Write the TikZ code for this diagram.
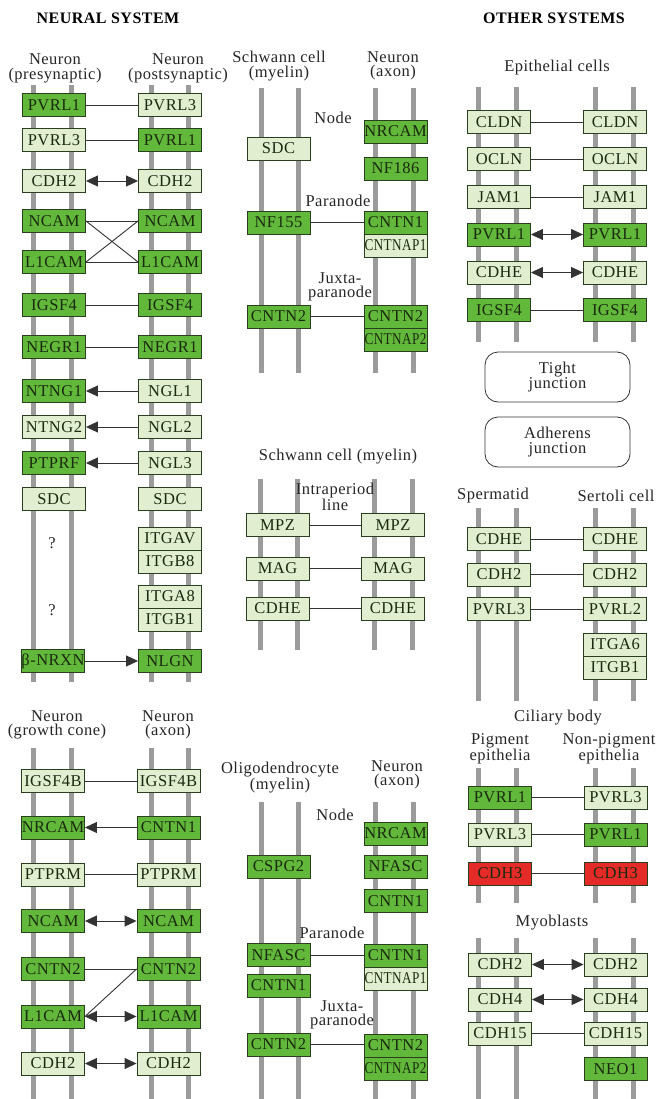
\documentclass[tikz,border=0pt]{standalone}
\usepackage{fontspec}
\usepackage{graphicx}
\setmainfont{Liberation Serif}[LetterSpace=3]
\usetikzlibrary{arrows.meta}
\definecolor{dkgreen}{HTML}{62B83A}
\definecolor{ltgreen}{HTML}{E1EFD0}
\definecolor{redbox}{HTML}{E42B27}
\definecolor{boxline}{HTML}{2A3F1E}
\definecolor{boxtext}{HTML}{1A2A10}
\definecolor{barg}{HTML}{9B9B9B}
\definecolor{linkc}{HTML}{333333}
\newcommand{\kgbox}{\fontsize{16.5}{16.5}\selectfont}
\newcommand{\kglbl}{\fontsize{16.5}{14.5}\selectfont}
\newcommand{\kgsq}[1]{\scalebox{0.8}[1]{#1}}
\tikzset{
  box/.style={draw=boxline, line width=0.9pt, minimum width=63pt, minimum height=23pt,
    inner sep=0pt, font=\kgbox, text=boxtext},
  dk/.style={box, fill=dkgreen},
  lt/.style={box, fill=ltgreen},
  rd/.style={box, fill=redbox},
  bar/.style={draw=barg, line width=5pt},
  lnk/.style={draw=linkc, line width=0.9pt},
  arr/.style={lnk, -{Triangle[length=12pt,width=11pt]}},
  darr/.style={lnk, {Triangle[length=12pt,width=11pt]}-{Triangle[length=12pt,width=11pt]}},
  lbl/.style={font=\kglbl, align=center, inner sep=0pt, text=black!85},
  hd/.style={font=\fontsize{16}{16}\selectfont\bfseries, inner sep=0pt},
  junc/.style={draw=black!80, line width=0.8pt, rounded corners=13pt, minimum width=145pt,
    minimum height=50pt, fill=white, font=\kglbl, align=center, inner sep=0pt, text=black!85}
}
\begin{document}
\begin{tikzpicture}[x=1pt,y=-1pt]
\useasboundingbox[fill=white] (0,0) rectangle (657,1099);

% ---------------- bars ----------------
\foreach \x in {33,71,151,188} \draw[bar] (\x,85) -- (\x,682);
\foreach \x in {261,298,375,413} \draw[bar] (\x,88) -- (\x,373);
\foreach \x in {260,297,374,412} \draw[bar] (\x,479) -- (\x,650);
\foreach \x in {478,516,595,633} \draw[bar] (\x,87) -- (\x,342);
\foreach \x in {478,516,595,633} \draw[bar] (\x,508) -- (\x,701);
\foreach \x in {33,71,151,188} \draw[bar] (\x,748) -- (\x,1099);
\foreach \x in {261,298,375,413} \draw[bar] (\x,802) -- (\x,1099);
\foreach \x in {478,516,595,633} \draw[bar] (\x,768) -- (\x,903);
\foreach \x in {478,516,595,633} \draw[bar] (\x,938) -- (\x,1099);

% ---------------- titles ----------------
\node[hd] (t1) at (108,18) {NEURAL SYSTEM};
\node[hd] (t2) at (554,18) {OTHER SYSTEMS};

% ---------------- panel A ----------------
\node[lbl] (ah1) at (55,68.5) {Neuron\\(presynaptic)};
\node[lbl] (ah2) at (178,68.5) {Neuron\\(postsynaptic)};
\node[dk] (a1l) at (54,105) {PVRL1};  \node[lt] (a1r) at (170,105) {PVRL3};
\node[lt] (a2l) at (54,140) {PVRL3};  \node[dk] (a2r) at (170,140) {PVRL1};
\node[lt] (a3l) at (54,181) {CDH2};   \node[lt] (a3r) at (170,181) {CDH2};
\node[dk] (a4l) at (54,221) {NCAM};   \node[dk] (a4r) at (170,221) {NCAM};
\node[dk] (a5l) at (54,262) {L1CAM};  \node[dk] (a5r) at (170,262) {L1CAM};
\node[dk] (a6l) at (54,305) {IGSF4};  \node[dk] (a6r) at (170,305) {IGSF4};
\node[dk] (a7l) at (54,347) {NEGR1};  \node[dk] (a7r) at (170,347) {NEGR1};
\node[dk] (a8l) at (54,391) {NTNG1};  \node[lt] (a8r) at (170,391) {NGL1};
\node[lt] (a9l) at (54,427) {NTNG2};  \node[lt] (a9r) at (170,427) {NGL2};
\node[dk] (a10l) at (54,463) {PTPRF}; \node[lt] (a10r) at (170,463) {NGL3};
\node[lt] (a11l) at (54,499) {SDC};   \node[lt] (a11r) at (170,499) {SDC};
\node[lbl] (aq1) at (52,543) {?};
\node[lt] (a12r) at (170,538.5) {ITGAV};
\node[lt] (a13r) at (170,561.5) {ITGB8};
\node[lbl] (aq2) at (52,610) {?};
\node[lt] (a14r) at (170,596.5) {ITGA8};
\node[lt] (a15r) at (170,619.5) {ITGB1};
\node[dk] (a16l) at (53,661) {β-NRXN}; \node[dk] (a16r) at (170,661) {NLGN};
\draw[lnk] (a1l) -- (a1r);
\draw[lnk] (a2l) -- (a2r);
\draw[darr] (a3l) -- (a3r);
\draw[lnk] (a4l) -- (a4r);
\draw[lnk] (a5l) -- (a5r);
\draw[lnk] (a4l.east) -- (a5r.west);
\draw[lnk] (a5l.east) -- (a4r.west);
\draw[lnk] (a6l) -- (a6r);
\draw[lnk] (a7l) -- (a7r);
\draw[arr] (a8r) -- (a8l);
\draw[arr] (a9r) -- (a9l);
\draw[arr] (a10r) -- (a10l);
\draw[arr] (a16l) -- (a16r);

% ---------------- panel B ----------------
\node[lbl] (bh1) at (279,66) {Schwann cell\\(myelin)};
\node[lbl] (bh2) at (393,66) {Neuron\\(axon)};
\node[lbl] (bn1) at (333,118) {Node};
\node[dk] (b1r) at (395.5,131.5) {NRCAM};
\node[lt] (b1l) at (278.5,148.5) {SDC};
\node[dk] (b2r) at (395.5,168.5) {NF186};
\node[lbl] (bn2) at (338,201) {Paranode};
\node[dk] (b3l) at (278.5,222.5) {NF155};
\node[dk] (b3r) at (395.5,222.5) {CNTN1};
\node[lt] (b4r) at (395.5,245.5) {\kgsq{CNTNAP1}};
\node[lbl] (bn3) at (340,287) {Juxta-\\paranode};
\node[dk] (b5l) at (278.5,316.5) {CNTN2};
\node[dk] (b5r) at (395.5,316.5) {CNTN2};
\node[dk] (b6r) at (395.5,339.5) {\kgsq{CNTNAP2}};
\draw[lnk] (b3l) -- (b3r);
\draw[lnk] (b5l) -- (b5r);

% ---------------- panel C ----------------
\node[lbl] (ch1) at (338,457) {Schwann cell (myelin)};
\node[lbl] (cn1) at (335,497) {Intraperiod\\line};
\node[lt] (c1l) at (277.5,525) {MPZ};  \node[lt] (c1r) at (393,525) {MPZ};
\node[lt] (c2l) at (277.5,568.5) {MAG}; \node[lt] (c2r) at (393,568.5) {MAG};
\node[lt] (c3l) at (277.5,608.5) {CDHE}; \node[lt] (c3r) at (393,608.5) {CDHE};
\draw[lnk] (c1l) -- (c1r);
\draw[lnk] (c2l) -- (c2r);
\draw[lnk] (c3l) -- (c3r);

% ---------------- panel D ----------------
\node[lbl] (dh1) at (557,68) {Epithelial cells};
\node[lt] (d1l) at (499,122) {CLDN};  \node[lt] (d1r) at (615,122) {CLDN};
\node[lt] (d2l) at (499,159) {OCLN};  \node[lt] (d2r) at (615,159) {OCLN};
\node[lt] (d3l) at (499,197) {JAM1};  \node[lt] (d3r) at (615,197) {JAM1};
\node[dk] (d4l) at (499,234.5) {PVRL1}; \node[dk] (d4r) at (615,234.5) {PVRL1};
\node[lt] (d5l) at (499,272.5) {CDHE}; \node[lt] (d5r) at (615,272.5) {CDHE};
\node[dk] (d6l) at (499,310) {IGSF4}; \node[dk] (d6r) at (615,310) {IGSF4};
\draw[lnk] (d1l) -- (d1r);
\draw[lnk] (d2l) -- (d2r);
\draw[lnk] (d3l) -- (d3r);
\draw[darr] (d4l) -- (d4r);
\draw[darr] (d5l) -- (d5r);
\draw[lnk] (d6l) -- (d6r);
\node[junc] (dj1) at (557.5,377) {Tight\\junction};
\node[junc] (dj2) at (557.5,442) {Adherens\\junction};
\node[lbl] (dh2) at (493,496) {Spermatid};
\node[lbl] (dh3) at (616,496) {Sertoli cell};
\node[lt] (d7l) at (499,539) {CDHE};   \node[lt] (d7r) at (615,539) {CDHE};
\node[lt] (d8l) at (499,574.5) {CDH2};  \node[lt] (d8r) at (615,574.5) {CDH2};
\node[lt] (d9l) at (499,609) {PVRL3};  \node[lt] (d9r) at (615,609) {PVRL2};
\node[lt] (d10r) at (615,644.5) {ITGA6};
\node[lt] (d11r) at (615,667.5) {ITGB1};
\draw[lnk] (d7l) -- (d7r);
\draw[lnk] (d8l) -- (d8r);
\draw[lnk] (d9l) -- (d9r);

% ---------------- panel E ----------------
\node[lbl] (eh1) at (57,725) {Neuron\\(growth cone)};
\node[lbl] (eh2) at (168,725) {Neuron\\(axon)};
\node[lt] (e1l) at (53,781) {IGSF4B};  \node[lt] (e1r) at (168.5,781) {IGSF4B};
\node[dk] (e2l) at (53,827.5) {NRCAM}; \node[dk] (e2r) at (168.5,827.5) {CNTN1};
\node[lt] (e3l) at (53,874.5) {PTPRM}; \node[lt] (e3r) at (168.5,874.5) {PTPRM};
\node[dk] (e4l) at (53,921) {NCAM};    \node[dk] (e4r) at (168.5,921) {NCAM};
\node[dk] (e5l) at (53,969) {CNTN2};   \node[dk] (e5r) at (168.5,969) {CNTN2};
\node[dk] (e6l) at (53,1016.5) {L1CAM}; \node[dk] (e6r) at (168.5,1016.5) {L1CAM};
\node[lt] (e7l) at (53,1063.5) {CDH2};  \node[lt] (e7r) at (168.5,1063.5) {CDH2};
\draw[lnk] (e1l) -- (e1r);
\draw[arr] (e2r) -- (e2l);
\draw[lnk] (e3l) -- (e3r);
\draw[darr] (e4l) -- (e4r);
\draw[lnk] (e5l) -- (e5r);
\draw[lnk] (e5r.west) -- (e6l.east);
\draw[darr] (e6l) -- (e6r);
\draw[darr] (e7l) -- (e7r);

% ---------------- panel F ----------------
\node[lbl] (fh1) at (280,778) {Oligodendrocyte\\(myelin)};
\node[lbl] (fh2) at (397,775) {Neuron\\(axon)};
\node[lbl] (fn1) at (335,815) {Node};
\node[dk] (f1r) at (395.5,833.5) {NRCAM};
\node[dk] (f2l) at (278.5,866.5) {CSPG2};
\node[dk] (f2r) at (395.5,866.5) {NFASC};
\node[dk] (f3r) at (395.5,901) {CNTN1};
\node[lbl] (fn2) at (332,933) {Paranode};
\node[dk] (f4l) at (278.5,955) {NFASC};
\node[dk] (f4r) at (395.5,955.5) {CNTN1};
\node[lt] (f5r) at (395.5,978.5) {\kgsq{CNTNAP1}};
\node[dk] (f5l) at (278.5,985.5) {CNTN1};
\node[lbl] (fn3) at (342,1015) {Juxta-\\paranode};
\node[dk] (f6l) at (278.5,1044.5) {CNTN2};
\node[dk] (f6r) at (395.5,1045.5) {CNTN2};
\node[dk] (f7r) at (395.5,1068.5) {\kgsq{CNTNAP2}};
\draw[lnk] (f4l) -- (f4l -| f4r.west);
\draw[lnk] (f6l) -- (f6l -| f6r.west);

% ---------------- panel G ----------------
\node[lbl] (gh1) at (558,718) {Ciliary body};
\node[lbl] (gh2) at (500,749) {Pigment\\epithelia};
\node[lbl] (gh3) at (609,749) {Non-pigment\\epithelia};
\node[dk] (g1l) at (500,797.5) {PVRL1}; \node[lt] (g1r) at (615.5,797.5) {PVRL3};
\node[lt] (g2l) at (500,834.5) {PVRL3}; \node[dk] (g2r) at (615.5,834.5) {PVRL1};
\node[rd] (g3l) at (500,873.5) {CDH3};  \node[rd] (g3r) at (615.5,873.5) {CDH3};
\draw[lnk] (g1l) -- (g1r);
\draw[lnk] (g2l) -- (g2r);
\draw[lnk] (g3l) -- (g3r);
\node[lbl] (gh4) at (552,923) {Myoblasts};
\node[lt] (g4l) at (500,964.5) {CDH2};   \node[lt] (g4r) at (615.5,964.5) {CDH2};
\node[lt] (g5l) at (500,999.5) {CDH4};   \node[lt] (g5r) at (615.5,999.5) {CDH4};
\node[lt] (g6l) at (500,1033.5) {CDH15}; \node[lt] (g6r) at (615.5,1033.5) {CDH15};
\node[dk] (g7r) at (615.5,1069) {NEO1};
\draw[darr] (g4l) -- (g4r);
\draw[darr] (g5l) -- (g5r);
\draw[lnk] (g6l) -- (g6r);
\end{tikzpicture}
\end{document}
